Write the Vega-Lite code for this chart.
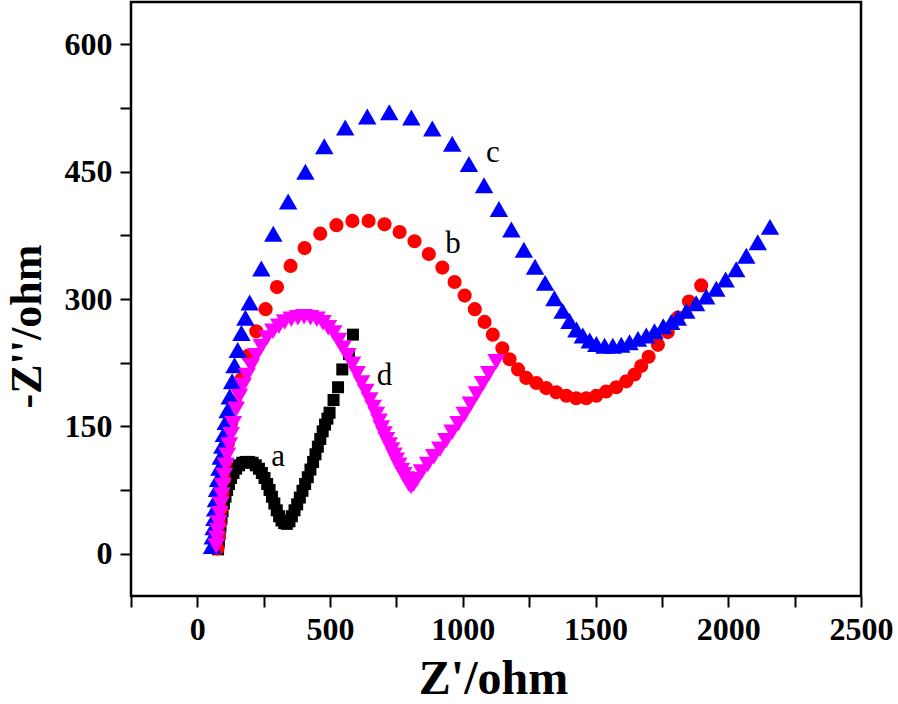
{
  "$schema": "https://vega.github.io/schema/vega-lite/v6.json",
  "autosize": "none",
  "width": 730,
  "height": 594,
  "padding": {"left": 131, "top": 2, "right": 37, "bottom": 108},
  "background": "white",
  "config": {"view": {"stroke": "black", "strokeWidth": 2.5}, "font": "Liberation Serif"},
  "datasets": {
    "pts": [
      {"s":"a","x":78,"y":5},{"s":"a","x":81,"y":14},{"s":"a","x":84,"y":23},{"s":"a","x":87,"y":32},{"s":"a","x":91,"y":41},{"s":"a","x":95,"y":50},{"s":"a","x":100,"y":59},{"s":"a","x":106,"y":67},{"s":"a","x":112,"y":75},{"s":"a","x":119,"y":82},{"s":"a","x":127,"y":89},{"s":"a","x":136,"y":95},{"s":"a","x":146,"y":100},{"s":"a","x":157,"y":104},{"s":"a","x":169,"y":107},{"s":"a","x":182,"y":108},{"s":"a","x":195,"y":108},{"s":"a","x":208,"y":107},{"s":"a","x":220,"y":104},{"s":"a","x":232,"y":100},{"s":"a","x":243,"y":95},{"s":"a","x":253,"y":89},{"s":"a","x":263,"y":82},{"s":"a","x":272,"y":75},{"s":"a","x":281,"y":67},{"s":"a","x":290,"y":59},{"s":"a","x":299,"y":51},{"s":"a","x":308,"y":44},{"s":"a","x":317,"y":39},{"s":"a","x":327,"y":36},{"s":"a","x":337,"y":35},{"s":"a","x":347,"y":38},{"s":"a","x":356,"y":44},{"s":"a","x":366,"y":51},{"s":"a","x":376,"y":58},{"s":"a","x":386,"y":66},{"s":"a","x":396,"y":74},{"s":"a","x":406,"y":82},{"s":"a","x":416,"y":90},{"s":"a","x":426,"y":99},{"s":"a","x":436,"y":108},{"s":"a","x":445,"y":117},{"s":"a","x":454,"y":126},{"s":"a","x":463,"y":135},{"s":"a","x":472,"y":144},{"s":"a","x":481,"y":152},{"s":"a","x":490,"y":159},{"s":"a","x":498,"y":166},{"s":"a","x":513,"y":181},{"s":"a","x":530,"y":196},{"s":"a","x":546,"y":217},{"s":"a","x":571,"y":235},{"s":"a","x":586,"y":258},
      {"s":"b","x":76,"y":6},{"s":"b","x":80,"y":20},{"s":"b","x":84,"y":35},{"s":"b","x":89,"y":52},{"s":"b","x":94,"y":70},{"s":"b","x":100,"y":88},{"s":"b","x":107,"y":108},{"s":"b","x":115,"y":130},{"s":"b","x":127,"y":154},{"s":"b","x":141,"y":178},{"s":"b","x":165,"y":205},{"s":"b","x":191,"y":233},{"s":"b","x":222,"y":262},{"s":"b","x":257,"y":288},{"s":"b","x":300,"y":314},{"s":"b","x":351,"y":339},{"s":"b","x":404,"y":360},{"s":"b","x":463,"y":377},{"s":"b","x":524,"y":387},{"s":"b","x":584,"y":392},{"s":"b","x":645,"y":392},{"s":"b","x":705,"y":388},{"s":"b","x":762,"y":379},{"s":"b","x":818,"y":368},{"s":"b","x":872,"y":353},{"s":"b","x":923,"y":337},{"s":"b","x":969,"y":320},{"s":"b","x":1007,"y":304},{"s":"b","x":1045,"y":288},{"s":"b","x":1082,"y":273},{"s":"b","x":1113,"y":258},{"s":"b","x":1149,"y":242},{"s":"b","x":1176,"y":229},{"s":"b","x":1208,"y":217},{"s":"b","x":1239,"y":207},{"s":"b","x":1277,"y":201},{"s":"b","x":1314,"y":195},{"s":"b","x":1352,"y":190},{"s":"b","x":1390,"y":186},{"s":"b","x":1427,"y":183},{"s":"b","x":1465,"y":183},{"s":"b","x":1503,"y":186},{"s":"b","x":1540,"y":191},{"s":"b","x":1578,"y":196},{"s":"b","x":1616,"y":203},{"s":"b","x":1647,"y":211},{"s":"b","x":1672,"y":221},{"s":"b","x":1700,"y":232},{"s":"b","x":1735,"y":246},{"s":"b","x":1772,"y":261},{"s":"b","x":1810,"y":278},{"s":"b","x":1852,"y":297},{"s":"b","x":1898,"y":316},
      {"s":"c","x":55,"y":9},{"s":"c","x":58,"y":20},{"s":"c","x":61,"y":31},{"s":"c","x":64,"y":42},{"s":"c","x":67,"y":53},{"s":"c","x":70,"y":64},{"s":"c","x":74,"y":76},{"s":"c","x":78,"y":88},{"s":"c","x":83,"y":101},{"s":"c","x":88,"y":114},{"s":"c","x":94,"y":127},{"s":"c","x":100,"y":141},{"s":"c","x":107,"y":155},{"s":"c","x":114,"y":169},{"s":"c","x":122,"y":185},{"s":"c","x":131,"y":203},{"s":"c","x":140,"y":222},{"s":"c","x":152,"y":240},{"s":"c","x":166,"y":260},{"s":"c","x":181,"y":278},{"s":"c","x":197,"y":296},{"s":"c","x":241,"y":336},{"s":"c","x":286,"y":377},{"s":"c","x":342,"y":415},{"s":"c","x":407,"y":450},{"s":"c","x":478,"y":480},{"s":"c","x":557,"y":502},{"s":"c","x":640,"y":515},{"s":"c","x":723,"y":520},{"s":"c","x":806,"y":514},{"s":"c","x":885,"y":501},{"s":"c","x":960,"y":483},{"s":"c","x":1023,"y":459},{"s":"c","x":1080,"y":434},{"s":"c","x":1136,"y":406},{"s":"c","x":1183,"y":382},{"s":"c","x":1230,"y":358},{"s":"c","x":1272,"y":338},{"s":"c","x":1310,"y":319},{"s":"c","x":1345,"y":301},{"s":"c","x":1376,"y":286},{"s":"c","x":1402,"y":274},{"s":"c","x":1428,"y":264},{"s":"c","x":1452,"y":257},{"s":"c","x":1478,"y":251},{"s":"c","x":1503,"y":247},{"s":"c","x":1534,"y":245},{"s":"c","x":1565,"y":245},{"s":"c","x":1597,"y":246},{"s":"c","x":1628,"y":249},{"s":"c","x":1660,"y":253},{"s":"c","x":1691,"y":257},{"s":"c","x":1722,"y":262},{"s":"c","x":1755,"y":268},{"s":"c","x":1785,"y":273},{"s":"c","x":1810,"y":278},{"s":"c","x":1842,"y":286},{"s":"c","x":1879,"y":295},{"s":"c","x":1917,"y":303},{"s":"c","x":1955,"y":312},{"s":"c","x":1990,"y":323},{"s":"c","x":2030,"y":335},{"s":"c","x":2068,"y":351},{"s":"c","x":2111,"y":367},{"s":"c","x":2157,"y":385},
      {"s":"d","x":71,"y":9},{"s":"d","x":74,"y":18},{"s":"d","x":77,"y":27},{"s":"d","x":80,"y":36},{"s":"d","x":84,"y":47},{"s":"d","x":88,"y":58},{"s":"d","x":92,"y":69},{"s":"d","x":96,"y":80},{"s":"d","x":101,"y":92},{"s":"d","x":107,"y":104},{"s":"d","x":113,"y":116},{"s":"d","x":120,"y":128},{"s":"d","x":127,"y":140},{"s":"d","x":135,"y":153},{"s":"d","x":146,"y":170},{"s":"d","x":158,"y":185},{"s":"d","x":172,"y":198},{"s":"d","x":187,"y":210},{"s":"d","x":203,"y":221},{"s":"d","x":221,"y":233},{"s":"d","x":241,"y":244},{"s":"d","x":262,"y":254},{"s":"d","x":285,"y":262},{"s":"d","x":307,"y":268},{"s":"d","x":329,"y":273},{"s":"d","x":354,"y":276},{"s":"d","x":379,"y":278},{"s":"d","x":402,"y":279},{"s":"d","x":426,"y":278},{"s":"d","x":450,"y":276},{"s":"d","x":473,"y":272},{"s":"d","x":493,"y":266},{"s":"d","x":513,"y":260},{"s":"d","x":531,"y":251},{"s":"d","x":548,"y":242},{"s":"d","x":566,"y":233},{"s":"d","x":584,"y":223},{"s":"d","x":601,"y":212},{"s":"d","x":618,"y":201},{"s":"d","x":634,"y":191},{"s":"d","x":649,"y":181},{"s":"d","x":662,"y":172},{"s":"d","x":674,"y":164},{"s":"d","x":684,"y":156},{"s":"d","x":693,"y":148},{"s":"d","x":703,"y":141},{"s":"d","x":712,"y":134},{"s":"d","x":722,"y":128},{"s":"d","x":731,"y":122},{"s":"d","x":740,"y":116},{"s":"d","x":749,"y":110},{"s":"d","x":758,"y":104},{"s":"d","x":768,"y":98},{"s":"d","x":777,"y":93},{"s":"d","x":787,"y":88},{"s":"d","x":796,"y":82},{"s":"d","x":805,"y":79},{"s":"d","x":815,"y":82},{"s":"d","x":826,"y":87},{"s":"d","x":845,"y":96},{"s":"d","x":868,"y":105},{"s":"d","x":891,"y":114},{"s":"d","x":914,"y":123},{"s":"d","x":937,"y":133},{"s":"d","x":960,"y":143},{"s":"d","x":983,"y":153},{"s":"d","x":1006,"y":164},{"s":"d","x":1029,"y":176},{"s":"d","x":1052,"y":188},{"s":"d","x":1075,"y":200},{"s":"d","x":1098,"y":212},{"s":"d","x":1126,"y":226}
    ],
    "labels": [
      {"t":"a","x":304,"y":103},
      {"t":"b","x":963,"y":354},
      {"t":"c","x":1113,"y":461},
      {"t":"d","x":705,"y":199}
    ]
  },
  "encoding": {
    "x": {
      "field": "x", "type": "quantitative",
      "scale": {"domain": [-250, 2500], "nice": false, "zero": false},
      "axis": {
        "orient": "bottom",
        "values": [-250, 0, 250, 500, 750, 1000, 1250, 1500, 1750, 2000, 2250, 2500],
        "format": "d",
        "labelExpr": "datum.value % 500 === 0 ? datum.label : ''",
        "labelFont": "Liberation Serif", "labelFontSize": 32, "labelFontWeight": "bold", "labelColor": "black",
        "labelPadding": 7, "labelFlush": false, "labelOverlap": false,
        "tickSize": 11, "tickWidth": 2, "tickColor": "black",
        "domain": false, "grid": false,
        "title": "Z'/ohm", "titleFont": "Liberation Serif", "titleFontSize": 48, "titleFontWeight": "bold", "titleColor": "black",
        "titleX": 362, "titleY": 97, "titleBaseline": "alphabetic", "titleAlign": "center",
        "encoding": {"ticks": {"update": {"y2": {"signal": "datum.value % 500 === 0 ? 11 : 6"}}}}
      }
    },
    "y": {
      "field": "y", "type": "quantitative",
      "scale": {"domain": [-50, 650], "nice": false, "zero": false},
      "axis": {
        "orient": "left",
        "values": [0, 75, 150, 225, 300, 375, 450, 525, 600],
        "format": "d",
        "labelExpr": "datum.value % 150 === 0 ? datum.label : ''",
        "labelFont": "Liberation Serif", "labelFontSize": 32, "labelFontWeight": "bold", "labelColor": "black",
        "labelPadding": 8, "labelFlush": false, "labelOverlap": false,
        "tickSize": 11, "tickWidth": 2, "tickColor": "black",
        "domain": false, "grid": false,
        "title": "-Z''/ohm", "titleFont": "Liberation Serif", "titleFontSize": 44, "titleFontWeight": "bold", "titleColor": "black",
        "titleX": -91, "titleY": 324, "titleBaseline": "alphabetic", "titleAlign": "center", "titleAngle": -90,
        "encoding": {"ticks": {"update": {"x2": {"signal": "datum.value % 150 === 0 ? -11 : -6"}}}}
      }
    }
  },
  "layer": [
    {
      "data": {"name": "pts"},
      "transform": [{"filter": "datum.s === 'a'"}],
      "mark": {"type": "point", "shape": "square", "filled": true, "opacity": 1, "strokeWidth": 0, "size": 144, "color": "#000000"}
    },
    {
      "data": {"name": "pts"},
      "transform": [{"filter": "datum.s === 'b'"}],
      "mark": {"type": "point", "shape": "circle", "filled": true, "opacity": 1, "strokeWidth": 0, "size": 200, "color": "#ff0000"}
    },
    {
      "data": {"name": "pts"},
      "transform": [{"filter": "datum.s === 'c'"}],
      "mark": {"type": "point", "shape": "triangle-up", "filled": true, "opacity": 1, "strokeWidth": 0, "size": 340, "color": "#0000ff"}
    },
    {
      "data": {"name": "pts"},
      "transform": [{"filter": "datum.s === 'd'"}],
      "mark": {"type": "point", "shape": "triangle-down", "filled": true, "opacity": 1, "strokeWidth": 0, "size": 320, "color": "#ff00ff"}
    },
    {
      "data": {"name": "labels"},
      "mark": {"type": "text", "font": "Liberation Serif", "fontSize": 31, "align": "center", "baseline": "alphabetic", "color": "black"},
      "encoding": {
        "text": {"field": "t", "type": "nominal"}
      }
    }
  ]
}
